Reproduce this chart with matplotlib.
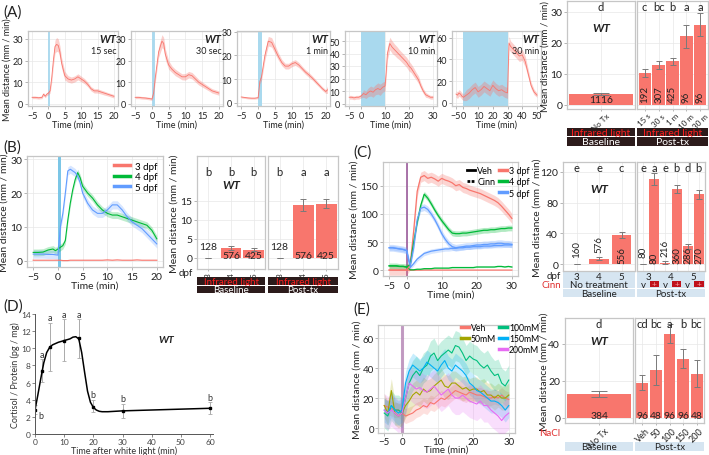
import numpy as np
import matplotlib
matplotlib.use("Agg")
import matplotlib.pyplot as plt
from matplotlib.lines import Line2D
from matplotlib.patches import Rectangle

plt.rcParams['font.family'] = ['Lato', 'DejaVu Sans']

# ---------------- data ----------------
# (A) traces, WT, different light durations
a1_t = [-5, -4, -3, -2, -1.5, -1, -0.5, 0, 0.5, 1, 1.5, 2, 2.5, 3, 3.5, 4, 5, 6, 7, 8, 9, 10, 11, 12, 13, 14, 15, 16, 17, 18, 19, 20]
a1_m = [3, 3, 2.8, 3, 4.5, 3.5, 4.5, 5, 6, 12, 20, 26.5, 27.5, 27, 24, 19, 13, 11.5, 11, 11.5, 12.5, 11.5, 10.5, 9, 7, 6, 6, 5.5, 5, 4.5, 4, 3.5]
a1_s = [0.6, 0.6, 0.6, 0.6, 0.7, 0.7, 0.7, 0.8, 1, 2, 2.5, 3, 3.2, 3, 2.8, 2.5, 2, 1.5, 1.4, 1.4, 1.4, 1.3, 1.2, 1.1, 1, 1, 1, 0.9, 0.9, 0.8, 0.8, 0.8]

a2_t = [-5, -4, -3, -2, -1, 0, 0.5, 1, 2, 3, 3.5, 4, 5, 6, 7, 8, 9, 10, 11, 12, 13, 14, 15, 16, 17, 18, 19, 20]
a2_m = [3, 3, 2.8, 2.7, 2.5, 2.2, 5, 12, 24, 29, 28, 23, 18, 16, 14.5, 13.5, 12.5, 12.5, 13.5, 13, 11.5, 10, 9, 8, 7, 6, 5.5, 5]
a2_s = [0.6, 0.6, 0.6, 0.6, 0.6, 0.6, 1, 2, 2.5, 3, 2.8, 2.5, 2, 1.5, 1.5, 1.4, 1.4, 1.5, 1.5, 1.5, 1.4, 1.3, 1.2, 1.1, 1, 1, 1, 1]

a3_t = [-5, -4, -3, -2, -1, 0, 0.5, 1, 2, 3, 4, 5, 6, 7, 8, 9, 10, 11, 12, 13, 14, 15, 16, 17, 18, 19, 20, 20.5]
a3_m = [2.5, 2.3, 2.1, 2, 2, 2.2, 9, 11, 20, 26, 25.5, 22.5, 19.5, 17, 15.5, 15.5, 16.5, 17, 16, 14.5, 13, 11.8, 10.5, 9, 7.5, 6, 4.8, 5.5]
a3_s = [0.4, 0.4, 0.4, 0.4, 0.4, 0.4, 1, 1.5, 2, 2, 2, 1.8, 1.5, 1.3, 1.2, 1.2, 1.2, 1.2, 1.1, 1, 1, 1, 0.9, 0.9, 0.8, 0.8, 0.8, 1.5]

a4_t = [-5, -4, -3, -2, -1, 0, 1, 2, 3, 4, 5, 6, 7, 8, 9, 10, 10.5, 11, 12, 13, 14, 15, 16, 17, 18, 19, 20, 21, 22, 23, 24, 25, 26, 27, 28, 29, 30]
a4_m = [5, 5, 4.5, 5, 5, 6, 8, 7, 9, 10, 9, 11, 12, 11, 13, 14, 25, 40, 48, 45, 43, 41, 39, 37, 35, 33, 30, 28, 25, 22, 19, 14, 10, 7, 6, 5, 5]
a4_s = [1.5, 1.5, 1.5, 1.5, 1.5, 1.5, 3, 3, 3.5, 4, 4, 4, 4.5, 4.5, 4, 4, 4, 5, 5, 5, 4.5, 4.5, 4, 4, 4, 4, 4, 3.5, 3.5, 3, 3, 2.5, 2, 2, 1.5, 1.5, 1.5]

a5_t = [-5, -4, -3, -2, -1, 0, 2, 4, 6, 8, 10, 12, 14, 16, 18, 20, 22, 24, 26, 28, 30, 31, 32, 34, 36, 38, 40, 42, 44, 46, 48, 50]
a5_m = [8, 7, 9, 8, 6, 5, 7, 9, 12, 14, 10, 12, 15, 13, 11, 16, 13, 11, 12, 10, 9, 55, 52, 49, 46, 43, 44, 38, 27, 16, 10, 7]
a5_s = [3, 3, 3, 3, 3, 3, 5, 5, 5, 5, 5, 5, 5, 5, 5, 5, 5, 5, 5, 5, 5, 6, 5, 5, 5, 5, 5, 5, 4, 3, 2.5, 2]

# (A) bars
a_base_lab = ['No Tx']
a_base_val = [3.5]
a_base_err = [0.35]
a_base_n = ['1116']
a_base_let = ['d']
a_post_lab = ['15 s', '30 s', '1 m', '10 m', '30 m']
a_post_val = [10.3, 12.8, 14.0, 22.0, 25.8]
a_post_err = [1.3, 1.4, 1.2, 3.8, 3.6]
a_post_n = ['192', '307', '425', '96', '96']
a_post_let = ['c', 'bc', 'b', 'a', 'a']

# (B) traces by age
b_t = [-5, -4, -3, -2, -1, -0.5, 0, 0.5, 1, 1.5, 2, 2.5, 3, 3.5, 4, 4.5, 5, 6, 7, 8, 9, 10, 11, 12, 13, 14, 15, 16, 17, 18, 19, 20]
b_3dpf = [0.2, 0.2, 0.2, 0.2, 0.2, 0.2, 0.2, 0.2, 0.1, 0.1, 0.1, 0.2, 0.2, 0.2, 0.2, 0.2, 0.2, 0.2, 0.2, 0.2, 0.2, 0.3, 0.2, 0.3, 0.2, 0.2, 0.2, 0.3, 0.2, 0.2, 0.2, 0.2]
b_4dpf = [2.5, 2.5, 2.6, 3.2, 3.5, 3, 3.5, 4, 4.5, 6, 12, 17, 21, 24, 26, 24.5, 22, 20, 18.5, 16.5, 15, 14, 13.5, 13.5, 13, 12.5, 12, 11.5, 11, 10.5, 9, 6.5]
b_5dpf = [2, 2, 2, 1.9, 1.9, 1.8, 1.7, 10, 14, 20, 26.5, 27, 26.5, 26, 25, 23, 20, 17, 15, 14, 14, 15, 16.5, 16.5, 15, 13, 11.5, 10.5, 9.5, 8, 6.5, 5]
b_sem = [0.1, 1.0, 1.2]
b_names = ['3 dpf', '4 dpf', '5 dpf']

b_base_val = [0.05, 2.7, 2.1]
b_base_err = [0.05, 0.5, 0.4]
b_post_val = [0.05, 13.9, 14.3]
b_post_err = [0.05, 1.5, 1.2]
b_dpf = ['3', '4', '5']
b_n = ['128', '576', '425']
b_base_let = ['b', 'b', 'b']
b_post_let = ['b', 'a', 'a']

# (C) traces, vehicle vs cinnamaldehyde
c_t = [-5, -4, -3, -2, -1, 0, 1, 2, 3, 4, 5, 6, 7, 8, 9, 10, 11, 12, 13, 14, 15, 16, 17, 18, 19, 20, 21, 22, 23, 24, 25, 26, 27, 28, 29, 30]
c_3_veh = [0.5, 0.5, 0.5, 0.5, 0.5, 0.5, 0.3, 0.3, 0.4, 0.4, 0.5, 0.5, 0.5, 0.5, 0.5, 0.5, 0.5, 0.5, 0.5, 0.5, 0.5, 0.5, 0.5, 0.5, 0.5, 0.5, 0.5, 0.5, 0.5, 0.5, 0.5, 0.5, 0.5, 0.5, 0.5, 0.5]
c_3_cinn = [0.5, 0.5, 0.5, 0.5, 0.5, 0.5, 10, 70, 140, 165, 168, 163, 165, 162, 158, 163, 160, 158, 155, 150, 152, 147, 145, 142, 140, 138, 136, 133, 130, 127, 124, 120, 114, 107, 100, 92]
c_4_veh = [8, 8, 8, 7, 7, 6, 1, 1, 2, 2, 3, 3, 3, 4, 4, 4, 4, 4, 5, 5, 5, 5, 5, 5, 5, 6, 6, 6, 6, 6, 6, 7, 7, 6, 7, 6]
c_4_cinn = [8, 8, 8, 7, 7, 6, 10, 50, 85, 115, 135, 128, 118, 107, 97, 88, 80, 72, 66, 65, 65, 66, 66, 67, 68, 69, 70, 71, 71, 72, 72, 73, 74, 74, 75, 75]
c_5_veh = [40, 40, 39, 38, 37, 35, 5, 12, 20, 25, 30, 32, 34, 35, 36, 37, 38, 38, 39, 39, 40, 40, 41, 41, 42, 42, 42, 43, 43, 43, 44, 44, 44, 45, 45, 45]
c_5_cinn = [40, 40, 39, 38, 37, 35, 8, 40, 90, 110, 112, 108, 100, 90, 78, 65, 55, 47, 42, 40, 41, 42, 43, 43, 44, 45, 45, 46, 46, 47, 47, 48, 48, 47, 47, 46]
c_veh_sem = [0.3, 1.0, 4.0]
c_cinn_sem = [9, 5, 6]

c_base_val = [0.3, 7, 38]
c_base_err = [0.3, 2, 3.5]
c_base_n = ['160', '576', '556']
c_base_let = ['e', 'e', 'c']
c_base_dpf = ['3', '4', '5']
c_post_val = [0.3, 111, 2, 98, 23, 91]
c_post_err = [0.3, 8, 1.5, 5, 3, 6]
c_post_n = ['80', '80', '216', '360', '286', '270']
c_post_let = ['e', 'a', 'e', 'b', 'd', 'b']
c_post_cinn = ['v', '+', 'v', '+', 'v', '+']

# (D) cortisol
d_x = [0, 2.5, 5, 10, 15, 20, 30, 60]
d_y = [2.8, 7.4, 10.1, 10.9, 11.2, 3.2, 2.7, 3.0]
d_lo = [2.3, 6.1, 7.3, 8.5, 8.9, 2.6, 1.9, 2.3]
d_hi = [3.4, 8.7, 13.0, 13.4, 13.4, 4.0, 3.5, 3.7]
d_let = ['b', 'a', 'a', 'a', 'a', 'b', 'b', 'b']
d_curve_x = [0, 1, 2, 2.5, 3, 4, 5, 6, 8, 10, 12, 13, 14, 15, 16, 17, 18, 19, 20, 21, 22, 23, 25, 30, 40, 50, 60]
d_curve_y = [2.8, 4.6, 6.5, 7.4, 8.3, 9.5, 10.1, 10.4, 10.7, 10.9, 11.1, 11.3, 11.35, 11.1, 9.5, 7.2, 5.0, 3.7, 3.1, 2.8, 2.65, 2.6, 2.6, 2.7, 2.8, 2.9, 3.0]

# (E) traces, NaCl
e_t = [-5, -4, -3, -2, -1, 0, 1, 2, 3, 4, 5, 6, 7, 8, 9, 10, 11, 12, 13, 14, 15, 16, 17, 18, 19, 20, 21, 22, 23, 24, 25, 26, 27, 28, 29, 30]
e_veh = [15, 14, 13, 12, 12, 10, 8, 9, 10, 12, 13, 15, 14, 17, 16, 18, 20, 19, 21, 23, 25, 24, 23, 22, 24, 23, 22, 22, 21, 20, 20, 21, 20, 22, 20, 19]
e_50 = [15, 10, 25, 10, 8, 10, 15, 18, 22, 24, 22, 26, 24, 25, 28, 30, 32, 28, 27, 30, 30, 28, 26, 27, 25, 26, 26, 24, 25, 22, 22, 20, 22, 20, 20, 22]
e_100 = [10, 8, 15, 12, 12, 10, 20, 30, 35, 38, 35, 40, 42, 48, 50, 45, 48, 50, 52, 50, 55, 54, 50, 45, 48, 46, 45, 42, 40, 42, 38, 35, 36, 30, 28, 32]
e_150 = [12, 10, 15, 12, 10, 12, 30, 38, 42, 40, 38, 40, 44, 42, 40, 38, 42, 45, 40, 38, 42, 40, 38, 35, 30, 28, 25, 24, 22, 20, 18, 18, 17, 15, 12, 15]
e_200 = [12, 10, 12, 10, 8, 10, 20, 30, 28, 26, 27, 25, 24, 26, 28, 25, 22, 24, 26, 22, 20, 20, 22, 20, 18, 17, 16, 18, 15, 15, 12, 10, 8, 5, 8, 10]
e_sem = [5, 8, 10, 8, 11]
e_names = ['Veh', '50mM', '100mM', '150mM', '200mM']

e_base_val = [13]
e_base_err = [1.5]
e_base_n = ['384']
e_base_let = ['d']
e_post_lab = ['Veh', '50', '100', '150', '200']
e_post_val = [19, 26, 45.5, 32, 24]
e_post_err = [4, 8, 5, 5, 7.5]
e_post_n = ['96', '48', '96', '96', '48']
e_post_let = ['cd', 'bc', 'a', 'b', 'bc']

# ---------------- style ----------------
W, H = 709, 456
RED = '#F8766D'
STIM = '#A9D9EE'
BORDER = '#C6C6C6'
GRID = '#E8E8E8'
DARK = '#2C1B1B'
LIGHT = '#D6E5F1'
TXT = '#222222'
C3, C4, C5 = '#F8766D', '#00BA38', '#619CFF'
E_COLS = ['#F8766D', '#A3A500', '#00BF7D', '#00B0F6', '#E76BF3']

fig = plt.figure(figsize=(W / 100, H / 100), dpi=100)


def px_axes(x0, y0, x1, y1):
    return fig.add_axes([x0 / W, 1 - y1 / H, (x1 - x0) / W, (y1 - y0) / H])


def px_text(x, y, s, **kw):
    fig.text(x / W, 1 - y / H, s, **kw)


def gg_style(ax, fs=7):
    ax.set_facecolor('white')
    for sp in ax.spines.values():
        sp.set_color(BORDER)
        sp.set_linewidth(0.9)
    ax.grid(True, which='major', color=GRID, lw=0.5)
    ax.set_axisbelow(True)
    ax.tick_params(length=2, width=0.5, color='#999999', labelsize=fs, pad=1.5,
                   labelcolor=TXT)


def trace(ax, t, m, s, color, lw=0.8, alpha=0.3, z=3):
    t = np.asarray(t, float)
    m = np.asarray(m, float)
    s = np.asarray(s, float) * np.ones_like(m)
    ax.fill_between(t, m - s, m + s, color=color, alpha=alpha, lw=0, zorder=z)
    ax.plot(t, m, color=color, lw=lw, zorder=z + 0.5)


def strip(x0, y0, x1, y1, text, fc, tc, fs=7.5, xlim=(0, 1)):
    ax = px_axes(x0, y0, x1, y1)
    ax.set_zorder(0)
    ax.set_facecolor(fc)
    ax.set_xticks([])
    ax.set_yticks([])
    ax.set_xlim(*xlim)
    ax.set_ylim(0, 1)
    for sp in ax.spines.values():
        sp.set_visible(False)
    if text:
        ax.text(0.5, 0.45, text, color=tc, fontsize=fs, ha='center', va='center',
                transform=ax.transAxes)
    return ax


def bar_facet(rect, vals, errs, ylim, yticks, xlim, width, letters, let_y,
              ylabels=True, fs=7.5, capsize=2):
    ax = px_axes(*rect)
    ax.set_zorder(2)
    gg_style(ax, fs=fs)
    x = np.arange(len(vals))
    ax.bar(x, vals, width=width, color=RED, zorder=2)
    ax.errorbar(x, vals, yerr=errs, fmt='none', ecolor='#7A7A7A', elinewidth=0.7,
                capsize=capsize, capthick=0.7, zorder=3)
    ax.set_xlim(*xlim)
    ax.set_ylim(*ylim)
    ax.set_yticks(yticks)
    ax.set_xticks(x)
    ax.set_xticklabels([])
    ax.tick_params(axis='x', pad=0.5, length=1.5)
    if not ylabels:
        ax.tick_params(axis='y', labelleft=False, length=0)
    for xi, s in zip(x, letters):
        ax.text(xi, let_y, s, ha='center', va='center', fontsize=8, color=TXT)
    return ax


def bar_ylabel(ax, x_px, fs=7.5):
    # place the y title centred at a given figure pixel column
    x0 = ax.get_position().x0 * W
    w = ax.get_position().width * W
    ax.set_ylabel('Mean distance (mm / min)', fontsize=fs, color=TXT)
    ax.yaxis.set_label_coords((x_px - x0) / w, 0.5)


def wt(ax, x, y, fs=8.5):
    ax.text(x, y, 'WT', ha='center', va='center', fontsize=fs,
            fontweight='bold', fontstyle='italic', color=TXT)


def px_legend(ax, handles, labels, x, y, fs=6.5):
    return ax.legend(handles, labels, loc='upper left', bbox_to_anchor=(x / W, 1 - y / H),
                     bbox_transform=fig.transFigure, fontsize=fs, frameon=False,
                     handlelength=0.9, labelspacing=0.25, borderaxespad=0,
                     handletextpad=0.25, borderpad=0)


# ---------------- (A) ----------------
px_text(3, 13, '(A)', fontsize=11, va='center', color=TXT)

a_panels = [
    ((28, 32, 118, 107), a1_t, a1_m, a1_s, 0.25, (-6.25, 21.25), (-1, 33.7), [-5, 0, 5, 10, 15, 20], [0, 10, 20, 30], '15 sec'),
    ((131, 32, 223, 107), a2_t, a2_m, a2_s, 0.5, (-6.25, 21.25), (-1, 33.7), [-5, 0, 5, 10, 15, 20], [0, 10, 20, 30], '30 sec'),
    ((237, 32, 330, 107), a3_t, a3_m, a3_s, 1.0, (-6.25, 21.25), (-1.3, 30.3), [-5, 0, 5, 10, 15, 20], [0, 10, 20, 30], '1 min'),
    ((345, 32, 437, 107), a4_t, a4_m, a4_s, 10, (-6.75, 31.75), (-2, 58), [-5, 0, 10, 20, 30], [0, 10, 20, 30, 40, 50], '10 min'),
    ((452, 32, 541, 107), a5_t, a5_m, a5_s, 30, (-7.75, 52.75), (-3, 66), [-5, 0, 10, 20, 30, 40, 50], [0, 20, 40, 60], '30 min'),
]
for i, (rect, t, m, s, stim, xl, yl, xt, yt, dur) in enumerate(a_panels):
    ax = px_axes(*rect)
    gg_style(ax, fs=6.5)
    ax.axvspan(0, stim, color=STIM, lw=0.6 if stim < 1 else 0, zorder=1)
    trace(ax, t, m, s, RED, lw=0.6, alpha=0.35)
    ax.set_xlim(*xl)
    ax.set_ylim(*yl)
    ax.set_xticks(xt)
    ax.set_yticks(yt)
    ax.set_xlabel('Time (min)', fontsize=6.5, labelpad=0, color=TXT)
    if i == 0:
        ax.set_ylabel('Mean distance (mm / min)', fontsize=6.5, labelpad=1, color=TXT)
    ax.text(0.98, 0.97, 'WT', transform=ax.transAxes, ha='right', va='top',
            fontsize=8, fontweight='bold', fontstyle='italic', color=TXT)
    ax.text(0.98, 0.80, dur, transform=ax.transAxes, ha='right', va='top',
            fontsize=6.5, color=TXT)

ax = bar_facet((567, 2, 635, 110), a_base_val, a_base_err, (-1.3, 33.4), [0, 10, 20, 30],
               (-0.5, 0.5), 0.94, a_base_let, 31.7, capsize=6)
ax.set_xticklabels(a_base_lab, rotation=45, ha='center', va='top', fontsize=5.8)
bar_ylabel(ax, 550, fs=7)
ax.text(0, 1.6, a_base_n[0], ha='center', va='center', fontsize=7.5, color=TXT)
wt(ax, 0, 25)
ax = bar_facet((637, 2, 708, 110), a_post_val, a_post_err, (-1.3, 33.4), [0, 10, 20, 30],
               (-0.55, 4.55), 0.88, a_post_let, 31.7, ylabels=False)
ax.set_xticklabels(a_post_lab, rotation=45, ha='center', va='top', fontsize=5.8)
for xi, n in enumerate(a_post_n):
    ax.text(xi, 0.8, n, rotation=90, ha='center', va='bottom', fontsize=7, color=TXT)

strip(567, 129, 635, 137, 'Infrared light', DARK, '#FF1E1E')
strip(637, 129, 708, 137, 'Infrared light', DARK, '#FF1E1E')
strip(567, 138, 635, 146.5, 'Baseline', DARK, 'white')
strip(637, 138, 708, 146.5, 'Post-tx', DARK, 'white')

# ---------------- (B) ----------------
px_text(3, 148, '(B)', fontsize=11, va='center', color=TXT)
ax = px_axes(27, 157, 163, 268)
gg_style(ax, fs=7.5)
ax.axvspan(0, 0.6, color='#7CC6E6', lw=0, zorder=1)
for m, s, col in zip([b_3dpf, b_4dpf, b_5dpf], b_sem, [C3, C4, C5]):
    trace(ax, b_t, m, s, col, lw=0.8, alpha=0.25)
ax.set_xlim(-6.25, 21.25)
ax.set_ylim(-1.8, 30.9)
ax.set_xticks([-5, 0, 5, 10, 15, 20])
ax.set_yticks([0, 10, 20, 30])
ax.set_xlabel('Time (min)', fontsize=7.5, labelpad=0, color=TXT)
ax.set_ylabel('Mean distance (mm / min)', fontsize=7.5, labelpad=1, color=TXT)
handles = [Line2D([], [], color=c, lw=2.5) for c in [C3, C4, C5]]
ax.legend(handles, b_names, loc='upper right', fontsize=7, frameon=False,
          handlelength=1.6, labelspacing=0.15, borderaxespad=0.2, handletextpad=0.5)

ax = bar_facet((197, 157, 265, 270), b_base_val, b_base_err, (-2.9, 26.8), [0, 5, 10, 15],
               (-0.5, 2.5), 0.9, b_base_let, 22.6)
ax.set_xticklabels(b_dpf, rotation=90, fontsize=6)
bar_ylabel(ax, 179, fs=7.5)
wt(ax, 1, 19.3)
for xi, (v, n) in enumerate(zip(b_base_val, b_n)):
    ax.text(xi, 2.9 if v < 1 else 0.7, n, ha='center', va='center', fontsize=7.5, color=TXT)
ax = bar_facet((268, 157, 338, 270), b_post_val, b_post_err, (-2.9, 26.8), [0, 5, 10, 15],
               (-0.5, 2.5), 0.9, b_post_let, 22.6, ylabels=False)
ax.set_xticklabels(b_dpf, rotation=90, fontsize=6)
for xi, (v, n) in enumerate(zip(b_post_val, b_n)):
    ax.text(xi, 2.9 if v < 1 else 0.7, n, ha='center', va='center', fontsize=7.5, color=TXT)
px_text(193, 274, 'dpf', fontsize=7, ha='right', va='center', color=TXT)

strip(197, 278, 265, 285.5, 'Infrared light', DARK, '#FF1E1E', fs=7)
strip(268, 278, 338, 285.5, 'Infrared light', DARK, '#FF1E1E', fs=7)
strip(197, 286.5, 265, 294, 'Baseline', DARK, 'white', fs=7)
strip(268, 286.5, 338, 294, 'Post-tx', DARK, 'white', fs=7)

# ---------------- (C) ----------------
px_text(353, 153, '(C)', fontsize=11, va='center', color=TXT)
ax = px_axes(383, 163, 518, 277)
gg_style(ax, fs=7.5)
ax.axvline(0, color='#9B5B9B', lw=1.2, zorder=2)
for veh, s, col in zip([c_3_veh, c_4_veh, c_5_veh], c_veh_sem, [C3, C4, C5]):
    trace(ax, c_t, veh, s, col, lw=0.9, alpha=0.25)
for cinn, s, col in zip([c_3_cinn, c_4_cinn, c_5_cinn], c_cinn_sem, [C3, C4, C5]):
    trace(ax, c_t, cinn, s, col, lw=0.9, alpha=0.3)
ax.set_xlim(-6.75, 31.75)
ax.set_ylim(-10, 192)
ax.set_xticks([-5, 0, 10, 20, 30])
ax.set_yticks([0, 50, 100, 150])
ax.set_xlabel('Time (min)', fontsize=7.5, labelpad=0, color=TXT)
ax.set_ylabel('Mean distance (mm / min)', fontsize=7.5, labelpad=1, color=TXT)
leg1 = px_legend(ax, [Line2D([], [], color='black', lw=2),
                      Line2D([], [], color='black', lw=2, ls=(0, (1, 0.5)))],
                 ['Veh', 'Cinn'], 467, 167)
ax.add_artist(leg1)
px_legend(ax, [Line2D([], [], color=c, lw=2.5) for c in [C3, C4, C5]], b_names, 499, 167)

ax = bar_facet((563, 163, 635, 272), c_base_val, c_base_err, (-9, 133), [0, 40, 80, 120],
               (-0.6, 2.6), 0.85, c_base_let, 126)
bar_ylabel(ax, 542, fs=7.5)
ax.tick_params(axis='x', length=0)
wt(ax, 1, 98)
for xi, (v, n) in enumerate(zip(c_base_val, c_base_n)):
    ax.text(xi, 1.5 if v > 15 else v + 9, n, rotation=90, ha='center', va='bottom', fontsize=7, color=TXT)
ax = bar_facet((637, 163, 705, 272), c_post_val, c_post_err, (-9, 133), [0, 40, 80, 120],
               (-0.55, 5.55), 0.9, c_post_let, 126, ylabels=False)
ax.tick_params(axis='x', length=0)
for xi, (v, n) in enumerate(zip(c_post_val, c_post_n)):
    ax.text(xi, 1.5 if v > 15 else v + 9, n, rotation=90, ha='center', va='bottom', fontsize=7, color=TXT)

sa = strip(563, 273, 635, 289, '', LIGHT, TXT, xlim=(-0.6, 2.6))
for xi, d in enumerate(c_base_dpf):
    sa.text(xi, 0.75, d, ha='center', va='center', fontsize=7, color=TXT)
sa.text(1, 0.25, 'No treatment', ha='center', va='center', fontsize=7, color=TXT)
sb = strip(637, 273, 705, 289, '', LIGHT, TXT, xlim=(-0.55, 5.55))
for k, d in enumerate(c_base_dpf):
    sb.text(2 * k + 0.5, 0.75, d, ha='center', va='center', fontsize=7, color=TXT)
for xi, c in enumerate(c_post_cinn):
    if c == '+':
        sb.add_patch(Rectangle((xi - 0.42, 0.04), 0.84, 0.42, color='#C0121C', lw=0))
        sb.text(xi, 0.25, '+', ha='center', va='center', fontsize=6, color='#F4A0A0')
    else:
        sb.text(xi, 0.25, c, ha='center', va='center', fontsize=7, color=TXT)
px_text(561, 277, 'dpf', fontsize=7, ha='right', va='center', color=TXT)
px_text(561, 285, 'Cinn', fontsize=7, ha='right', va='center', color='#E03030')
strip(563, 290, 635, 298, 'Baseline', LIGHT, TXT, fs=7)
strip(637, 290, 705, 298, 'Post-tx', LIGHT, TXT, fs=7)

# ---------------- (D) ----------------
px_text(3, 307, '(D)', fontsize=11, va='center', color=TXT)
ax = px_axes(35, 315, 213, 435)
for sp in ['top', 'right']:
    ax.spines[sp].set_visible(False)
for sp in ['left', 'bottom']:
    ax.spines[sp].set_color('#555555')
    ax.spines[sp].set_linewidth(0.7)
ax.tick_params(length=2, width=0.5, color='#555555', labelsize=6, pad=1, labelcolor='#444444')
d_err = [np.subtract(d_y, d_lo), np.subtract(d_hi, d_y)]
ax.errorbar(d_x, d_y, yerr=d_err, fmt='none', ecolor='#AAAAAA', elinewidth=0.7, capsize=1.2,
            capthick=0.6)
ax.plot(d_curve_x, d_curve_y, color='black', lw=1.1)
ax.plot(d_x, d_y, 's', color='black', ms=1.5)
for xi, yi, hi, s in zip(d_x, d_y, d_hi, d_let):
    if xi == 0:
        ax.text(xi + 1.0, yi - 0.6, s, ha='left', va='center', fontsize=6.5, color='#333333')
    else:
        ax.text(xi, hi + 0.6, s, ha='center', va='center', fontsize=6.5, color='#333333')
ax.text(45, 11, 'WT', ha='center', va='center', fontsize=7.5, fontweight='bold',
        fontstyle='italic', color=TXT)
ax.set_xlim(0, 61)
ax.set_ylim(0, 14)
ax.set_xticks([0, 10, 20, 30, 40, 50, 60])
ax.set_yticks(range(0, 15, 2))
ax.set_xlabel('Time after white light (min)', fontsize=6.5, labelpad=0, color='#333333')
ax.set_ylabel('Cortisol / Protein (pg / mg)', fontsize=6.5, labelpad=1, color='#333333')

# ---------------- (E) ----------------
px_text(353, 310, '(E)', fontsize=11, va='center', color=TXT)
ax = px_axes(378, 326, 515, 434)
gg_style(ax, fs=7)
ax.tick_params(pad=1)
ax.axvline(0, color='#B584B5', lw=2.2, alpha=0.8, zorder=2)
for m, s, col in zip([e_veh, e_50, e_100, e_150, e_200], e_sem, E_COLS):
    trace(ax, e_t, m, s, col, lw=0.8, alpha=0.22)
ax.set_xlim(-6.75, 31.75)
ax.set_ylim(-3.3, 68.7)
ax.set_xticks([-5, 0, 10, 20, 30])
ax.set_yticks([0, 20, 40, 60])
ax.set_xlabel('Time (min)', fontsize=7, labelpad=-1, color=TXT)
ax.set_ylabel('Mean distance (mm / min)', fontsize=7.5, labelpad=1, color=TXT)
eh = [Line2D([], [], color=c, lw=2.5) for c in E_COLS]
leg1 = px_legend(ax, eh[:2], e_names[:2], 461, 324, fs=6.2)
ax.add_artist(leg1)
px_legend(ax, eh[2:], e_names[2:], 499, 324, fs=6.2)

ax = bar_facet((565, 319, 633, 424), e_base_val, e_base_err, (-2.7, 54), [0, 20, 40],
               (-0.5, 0.5), 0.94, e_base_let, 51.3, capsize=6)
ax.set_xticklabels(a_base_lab, rotation=45, ha='center', va='top', fontsize=6.5)
bar_ylabel(ax, 549, fs=7.5)
ax.text(0, 1.6, e_base_n[0], ha='center', va='center', fontsize=7.5, color=TXT)
wt(ax, 0, 42)
ax = bar_facet((635, 319, 704, 424), e_post_val, e_post_err, (-2.7, 54), [0, 20, 40],
               (-0.55, 4.55), 0.88, e_post_let, 51.3, ylabels=False)
ax.set_xticklabels(e_post_lab, rotation=45, ha='center', va='top', fontsize=6.5)
for xi, n in enumerate(e_post_n):
    ax.text(xi, 1.6, n, ha='center', va='center', fontsize=7.5, color=TXT)
px_text(560, 434, 'NaCl', fontsize=7, ha='right', va='center', color='#E03030')
strip(565, 443, 633, 452, 'Baseline', LIGHT, TXT, fs=7)
strip(635, 443, 704, 452, 'Post-tx', LIGHT, TXT, fs=7)

fig.savefig('out.png', dpi=100)
